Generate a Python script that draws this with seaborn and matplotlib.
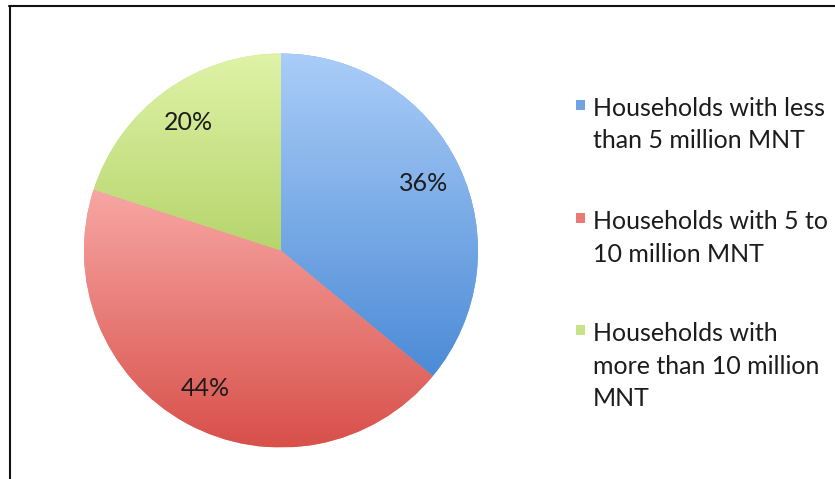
import numpy as np
import matplotlib
matplotlib.use("Agg")
import matplotlib.pyplot as plt
import seaborn as sns
from matplotlib.colors import LinearSegmentedColormap
from matplotlib.lines import Line2D
from matplotlib.patches import Rectangle

# Household income groups and their shares (%)
categories = [
    "Households with less\nthan 5 million MNT",
    "Households with 5 to\n10 million MNT",
    "Households with\nmore than 10 million\nMNT",
]
shares = [36, 44, 20]

# Gradient colours per slice: light (top) -> dark (bottom)
light_colors = ["#aacdf8", "#f7a7a4", "#dff3a8"]
dark_colors = ["#4c8bd6", "#d8504a", "#b6d56c"]
base_colors = ["#6fa3e4", "#ea7a74", "#c8e289"]

sns.set_theme(style="white")
plt.rcParams["font.family"] = ["Lato", "DejaVu Sans"]

W, H = 835, 479
fig = plt.figure(figsize=(W / 100, H / 100), dpi=100)
fig.patch.set_facecolor("white")


def fx(px):
    return px / W


def fy(py):
    return 1 - py / H


# Pie axes: centre (281, 250), radius ~197 px
cx, cy, r = 281, 250.5, 197
ax = fig.add_axes([fx(cx - r), fy(cy + r), 2 * r / W, 2 * r / H])

wedges, texts, autotexts = ax.pie(
    shares,
    colors=base_colors,
    startangle=90,
    counterclock=False,
    autopct="%.0f%%",
    pctdistance=0.8,
    textprops=dict(color="#1c1c1c", fontsize=18),
    wedgeprops=dict(linewidth=0),
)
ax.axis("off")

# Vertical gradient fill clipped to each slice
grad = np.linspace(0, 1, 256).reshape(-1, 1)
for w, lc, dc in zip(wedges, light_colors, dark_colors):
    ext = w.get_path().get_extents()
    cmap = LinearSegmentedColormap.from_list("g", [dc, lc])
    im = ax.imshow(
        grad,
        cmap=cmap,
        extent=(ext.x0, ext.x1, ext.y0, ext.y1),
        origin="lower",
        aspect="auto",
        interpolation="bilinear",
        zorder=w.get_zorder() + 0.5,
    )
    im.set_clip_path(w)
ax.set_xlim(-1, 1)
ax.set_ylim(-1, 1)
for t in autotexts:
    t.set_zorder(10)

# Legend: square swatch beside wrapped label text
legend_x = 593
line_step = 32.5
baselines = [116, 229, 341]
for label, color, base in zip(categories, base_colors, baselines):
    fig.add_artist(
        Rectangle(
            (fx(576), fy(base - 6)),
            9 / W,
            10 / H,
            transform=fig.transFigure,
            facecolor=color,
            edgecolor="none",
        )
    )
    for k, line in enumerate(label.split("\n")):
        fig.text(
            fx(legend_x),
            fy(base + k * line_step),
            line,
            ha="left",
            va="baseline",
            fontsize=18,
            color="#1c1c1c",
        )

# Frame lines along the top and left edges
fig.add_artist(Line2D([fx(8.5), 1], [fy(5.5), fy(5.5)], color="#111111", lw=1.5,
                      transform=fig.transFigure))
fig.add_artist(Line2D([fx(9.5), fx(9.5)], [fy(5.5), 0], color="#111111", lw=1.5,
                      transform=fig.transFigure))

fig.savefig("out.png", dpi=100, facecolor="white")
